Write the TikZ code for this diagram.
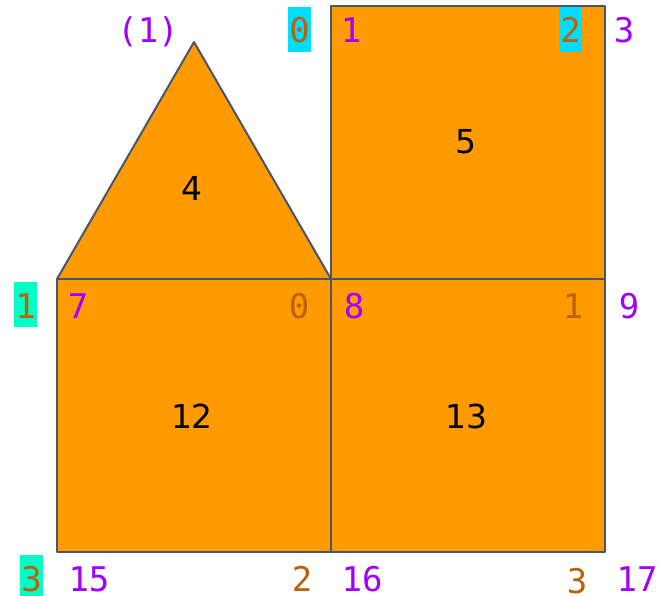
\documentclass[tikz,border=0pt]{standalone}
\usepackage{fontspec}
\setmonofont{DejaVu Sans Mono}
\setsansfont{DejaVu Sans}
\definecolor{faceorange}{HTML}{FF9B00}
\definecolor{edgegray}{HTML}{4A5568}
\definecolor{vpurple}{HTML}{A000FF}
\definecolor{ebrown}{HTML}{B8620A}
\definecolor{hcyan}{HTML}{00DDFF}
\definecolor{haqua}{HTML}{00FFC4}
\tikzset{
  face/.style={fill=faceorange, draw=edgegray, line width=2pt, line join=round},
  lbl/.style={anchor=base, inner sep=0pt, font=\fontsize{34}{40}\selectfont\ttfamily},
  vlbl/.style={lbl, text=vpurple},
  elbl/.style={lbl, text=ebrown},
  boxed/.style={elbl, minimum width=23pt, text height=36pt, text depth=9pt},
  cyanbox/.style={boxed, fill=hcyan},
  aquabox/.style={boxed, fill=haqua},
  flbl/.style={inner sep=0pt, font=\fontsize{33}{40}\selectfont\sffamily, text=black},
}
\begin{document}
\begin{tikzpicture}[x=1pt, y=-1pt]
\useasboundingbox (0,0) rectangle (663,596);
% faces
\draw[face] (57,279) -- (331,279) -- (194,42) -- cycle;
\draw[face] (331,6) rectangle (605,279);
\draw[face] (57,279) rectangle (331,552);
\draw[face] (331,279) rectangle (605,552);
% face labels
\node[flbl] (f4) at (192,188) {4};
\node[flbl] (f5) at (466,142) {5};
\node[flbl] (f12) at (192,416) {12};
\node[flbl] (f13) at (466,416) {13};
% row 1
\node[vlbl] (v1p) at (148,43) {(1)};
\node[cyanbox] (e0t) at (299.5,43) {0};
\node[vlbl] (v1) at (351,43) {1};
\node[cyanbox] (e2t) at (570.5,43) {2};
\node[vlbl] (v3) at (624,43) {3};
% row 2
\node[aquabox] (e1l) at (25.5,318) {1};
\node[vlbl] (v7) at (78,318) {7};
\node[elbl] (e0m) at (299,318) {0};
\node[vlbl] (v8) at (354,318) {8};
\node[elbl] (e1m) at (573,318) {1};
\node[vlbl] (v9) at (629,318) {9};
% row 3
\node[aquabox] (e3l) at (31.5,591) {3};
\node[vlbl] (v15) at (89,591) {15};
\node[elbl] (e2b) at (302,591) {2};
\node[vlbl] (v16) at (362,591) {16};
\node[elbl] (e3b) at (577,593) {3};
\node[vlbl] (v17) at (637,591) {17};
\end{tikzpicture}
\end{document}
